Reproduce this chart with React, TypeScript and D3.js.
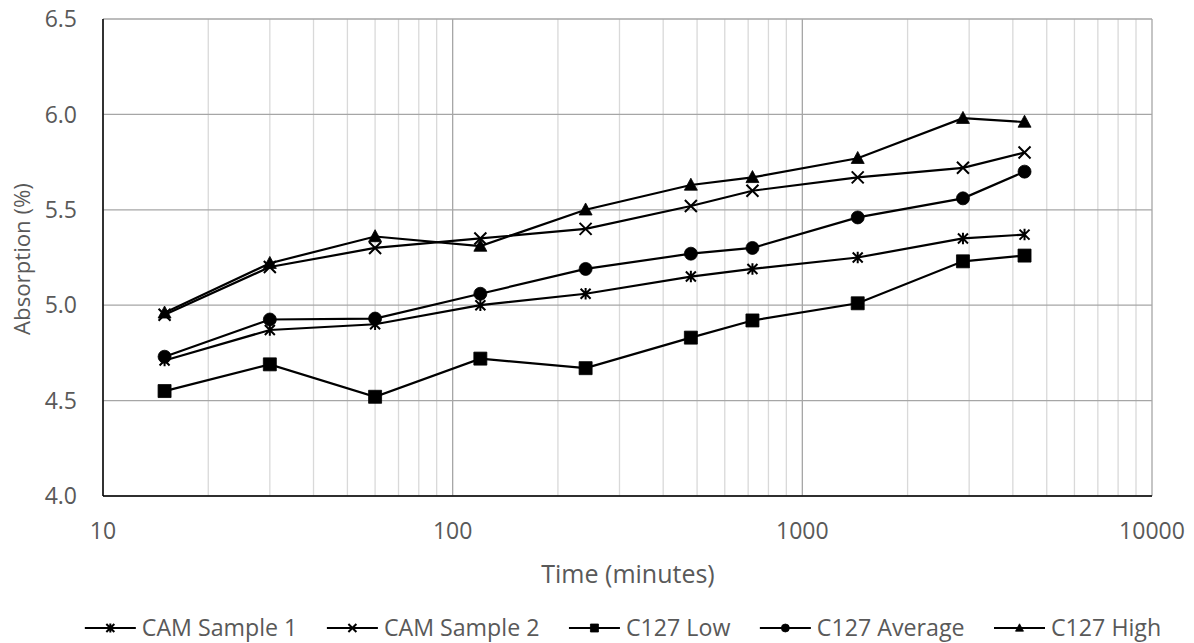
import React, { useMemo } from "react";
import * as d3 from "d3";

const times = [15, 30, 60, 120, 240, 480, 720, 1440, 2880, 4320];
const cam1 = [4.71, 4.87, 4.9, 5.0, 5.06, 5.15, 5.19, 5.25, 5.35, 5.37];
const cam2 = [4.95, 5.2, 5.3, 5.35, 5.4, 5.52, 5.6, 5.67, 5.72, 5.8];
const c127Low = [4.55, 4.69, 4.52, 4.72, 4.67, 4.83, 4.92, 5.01, 5.23, 5.26];
const c127Avg = [4.73, 4.925, 4.93, 5.06, 5.19, 5.27, 5.3, 5.46, 5.56, 5.7];
const c127High = [4.96, 5.22, 5.36, 5.31, 5.5, 5.63, 5.67, 5.77, 5.98, 5.96];

const seriesNames = ["CAM Sample 1", "CAM Sample 2", "C127 Low", "C127 Average", "C127 High"];
const seriesMarkers = ["star", "x", "square", "circle", "triangle"];
const seriesValues = [cam1, cam2, c127Low, c127Avg, c127High];

const xTicks = [10, 100, 1000, 10000];
const yTicks = [4.0, 4.5, 5.0, 5.5, 6.0, 6.5];

const W = 1194;
const H = 643;
const M = { left: 103, right: 1152, top: 19, bottom: 496 };
const FONT = "'Open Sans', sans-serif";
const TEXT_COLOR = "#595959";
const TICK_FS = 23;
const XTITLE_FS = 25;
const YTITLE_FS = 22.2;
const LEGEND_FS = 23.2;

function markerPath(type: string, s: number): string {
  const h = s / 2;
  switch (type) {
    case "star":
      return `M${-h},${-h}L${h},${h}M${-h},${h}L${h},${-h}M0,${-h * 1.15}L0,${h * 1.15}`;
    case "x":
      return `M${-h},${-h}L${h},${h}M${-h},${h}L${h},${-h}`;
    case "square":
      return `M${-h},${-h}H${h}V${h}H${-h}Z`;
    case "circle":
      return `M${h},0A${h},${h} 0 1,1 ${-h},0A${h},${h} 0 1,1 ${h},0Z`;
    case "triangle":
      return `M0,${-h * 1.05}L${h},${h * 0.8}L${-h},${h * 0.8}Z`;
  }
  return "";
}
const filled = (t: string) => t === "square" || t === "circle" || t === "triangle";

function Marker({ type, x, y, size }: { type: string; x: number; y: number; size: number }) {
  const f = filled(type);
  return (
    <path
      d={markerPath(type, size)}
      transform={`translate(${x},${y})`}
      fill={f ? "#000" : "none"}
      stroke="#000"
      strokeWidth={f ? 0.8 : 2}
    />
  );
}

export default function App() {
  const x = d3.scaleLog().domain([10, 10000]).range([M.left, M.right]);
  const y = d3.scaleLinear().domain([4.0, 6.5]).range([M.bottom, M.top]);

  const minorTicks: number[] = [];
  for (let dec = 10; dec < 10000; dec *= 10) {
    for (let k = 2; k <= 9; k++) minorTicks.push(dec * k);
  }

  const line = d3
    .line<[number, number]>()
    .x((d) => x(d[0]))
    .y((d) => y(d[1]));

  const legend = useMemo(() => {
    const canvas = document.createElement("canvas");
    const ctx = canvas.getContext("2d")!;
    ctx.font = `${LEGEND_FS}px ${FONT}`;
    const lineLen = 51;
    const textGap = 6;
    const itemGap = 29.5;
    const widths = seriesNames.map((n) => ctx.measureText(n).width);
    const total =
      widths.reduce((a, b) => a + b, 0) + seriesNames.length * (lineLen + textGap) + (seriesNames.length - 1) * itemGap;
    let cx = 623 - total / 2;
    return seriesNames.map((n, i) => {
      const item = { name: n, x0: cx, lineLen, tx: cx + lineLen + textGap };
      cx += lineLen + textGap + widths[i] + itemGap;
      return item;
    });
  }, []);

  return (
    <svg width={W} height={H} style={{ position: "absolute", left: 0, top: 0, background: "#fff" }} fontFamily={FONT}>
      <rect width={W} height={H} fill="#fff" />
      {minorTicks.map((t) => (
        <line key={"m" + t} x1={x(t)} x2={x(t)} y1={M.top} y2={M.bottom} stroke="#d9d9d9" strokeWidth={1.3} />
      ))}
      {xTicks.map((t) => (
        <line key={"M" + t} x1={x(t)} x2={x(t)} y1={M.top} y2={M.bottom} stroke="#a6a6a6" strokeWidth={1.3} />
      ))}
      {yTicks.map((t) => (
        <line key={"h" + t} x1={M.left} x2={M.right} y1={y(t)} y2={y(t)} stroke="#a6a6a6" strokeWidth={1.3} />
      ))}
      <line x1={M.left} x2={M.left} y1={M.top} y2={M.bottom} stroke="#000" strokeWidth={1.5} />
      <line x1={M.left} x2={M.right} y1={M.bottom} y2={M.bottom} stroke="#000" strokeWidth={1.5} />

      {yTicks.map((t) => (
        <text key={"yl" + t} x={77} y={y(t)} dy="0.36em" textAnchor="end" fontSize={TICK_FS} fill={TEXT_COLOR}>
          {t.toFixed(1)}
        </text>
      ))}
      {xTicks.map((t) => (
        <text key={"xl" + t} x={x(t)} y={531} dy="0.36em" textAnchor="middle" fontSize={TICK_FS} fill={TEXT_COLOR}>
          {t}
        </text>
      ))}
      <text x={628} y={574} dy="0.36em" textAnchor="middle" fontSize={XTITLE_FS} fill={TEXT_COLOR}>
        Time (minutes)
      </text>
      <text
        transform={`translate(22,259) rotate(-90)`}
        dy="0.36em"
        textAnchor="middle"
        fontSize={YTITLE_FS}
        fill={TEXT_COLOR}
      >
        Absorption (%)
      </text>

      {seriesValues.map((vals, i) => {
        const pts = times.map((t, j) => [t, vals[j]] as [number, number]);
        return (
          <g key={"s" + i}>
            <path d={line(pts) || ""} fill="none" stroke="#000" strokeWidth={2.2} />
            {pts.map((p, j) => (
              <Marker
                key={j}
                type={seriesMarkers[i]}
                x={x(p[0])}
                y={y(p[1])}
                size={seriesMarkers[i] === "star" ? 10 : seriesMarkers[i] === "x" ? 12 : 13}
              />
            ))}
          </g>
        );
      })}

      {legend.map((it, i) => (
        <g key={"lg" + i}>
          <line x1={it.x0} x2={it.x0 + it.lineLen} y1={628} y2={628} stroke="#000" strokeWidth={2.2} />
          <Marker type={seriesMarkers[i]} x={it.x0 + it.lineLen / 2} y={628} size={8} />
          <text x={it.tx} y={628} dy="0.36em" fontSize={LEGEND_FS} fill={TEXT_COLOR}>
            {it.name}
          </text>
        </g>
      ))}
    </svg>
  );
}
